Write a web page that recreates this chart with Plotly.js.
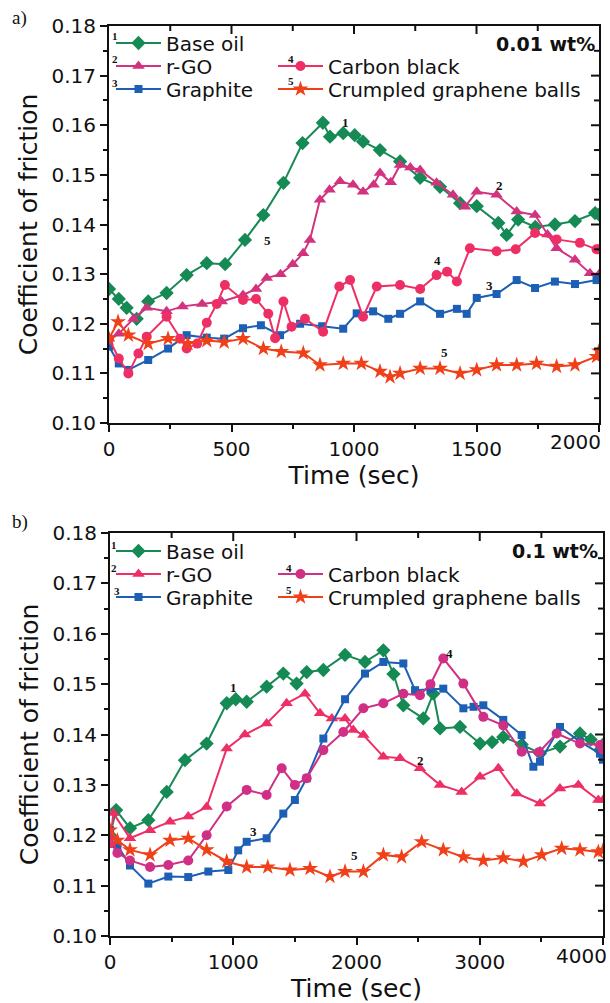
<!DOCTYPE html>
<html><head><meta charset="utf-8">
<script src="https://cdn.plot.ly/plotly-3.0.1.min.js"></script>
<style>html,body{margin:0;padding:0;background:#fff}#chart{width:610px;height:1003px}</style>
</head><body><div id="chart"></div>
<script>
// ---------- Data ----------
const seriesNames = ["Base oil", "r-GO", "Graphite", "Carbon black", "Crumpled graphene balls"];

// Panel a) 0.01 wt%
const aBaseT = [0, 40, 72, 113, 160, 235, 317, 399, 474, 555, 630, 712, 790, 873, 902, 956, 1003, 1037, 1106, 1188, 1270, 1351, 1433, 1501, 1589, 1623, 1670, 1740, 1820, 1902, 1984, 2000];
const aBaseV = [0.127, 0.125, 0.1232, 0.121, 0.1245, 0.1262, 0.1298, 0.1322, 0.132, 0.1369, 0.1419, 0.1484, 0.1564, 0.1605, 0.1577, 0.1584, 0.158, 0.1567, 0.155, 0.1527, 0.1494, 0.1476, 0.1443, 0.1437, 0.1403, 0.1379, 0.141, 0.1395, 0.140, 0.1407, 0.1423, 0.142];
const aRgoT = [0, 40, 100, 154, 235, 300, 380, 460, 547, 600, 644, 700, 750, 792, 820, 861, 900, 943, 996, 1037, 1080, 1106, 1150, 1188, 1230, 1270, 1337, 1404, 1453, 1501, 1582, 1664, 1739, 1790, 1827, 1902, 1963, 2000];
const aRgoV = [0.117, 0.118, 0.121, 0.1232, 0.1225, 0.1235, 0.124, 0.1245, 0.1258, 0.127, 0.1292, 0.130, 0.132, 0.1342, 0.1369, 0.145, 0.147, 0.1487, 0.148, 0.1466, 0.148, 0.1504, 0.1485, 0.152, 0.1515, 0.151, 0.1484, 0.146, 0.1436, 0.1466, 0.146, 0.1426, 0.1419, 0.138, 0.1352, 0.1329, 0.1302, 0.130];
const aGrT = [0, 40, 79, 160, 241, 317, 399, 470, 547, 620, 698, 780, 870, 956, 1011, 1078, 1140, 1188, 1270, 1351, 1420, 1460, 1501, 1582, 1664, 1739, 1820, 1902, 1990, 2000];
const aGrV = [0.1154, 0.112, 0.1107, 0.1127, 0.115, 0.1177, 0.1172, 0.117, 0.1191, 0.1197, 0.1177, 0.120, 0.1195, 0.119, 0.1221, 0.1225, 0.121, 0.122, 0.1245, 0.122, 0.123, 0.122, 0.1252, 0.126, 0.1288, 0.1272, 0.1285, 0.128, 0.1288, 0.129];
const aCbT = [0, 40, 79, 120, 154, 235, 290, 317, 360, 399, 440, 473, 547, 600, 650, 678, 712, 745, 800, 874, 940, 984, 1037, 1093, 1188, 1270, 1337, 1380, 1420, 1473, 1582, 1660, 1739, 1827, 1922, 1990, 2000];
const aCbV = [0.117, 0.113, 0.110, 0.114, 0.1174, 0.1214, 0.117, 0.115, 0.116, 0.1202, 0.124, 0.1278, 0.1248, 0.125, 0.122, 0.1171, 0.1245, 0.1194, 0.121, 0.1184, 0.1275, 0.1288, 0.1214, 0.1275, 0.1278, 0.127, 0.1298, 0.1305, 0.1285, 0.1352, 0.1346, 0.135, 0.1383, 0.137, 0.1363, 0.135, 0.135];
const aCgbT = [0, 37, 79, 160, 241, 322, 399, 470, 547, 630, 703, 793, 861, 956, 1030, 1106, 1147, 1188, 1270, 1351, 1433, 1501, 1582, 1664, 1745, 1827, 1902, 1990, 2000];
const aCgbV = [0.117, 0.1204, 0.1177, 0.116, 0.117, 0.116, 0.1166, 0.1163, 0.117, 0.115, 0.1144, 0.1141, 0.1117, 0.112, 0.112, 0.1104, 0.1093, 0.110, 0.111, 0.111, 0.110, 0.1107, 0.1117, 0.1117, 0.112, 0.1114, 0.1117, 0.1134, 0.1145];

// Panel b) 0.1 wt%
const bBaseT = [0, 50, 162, 311, 460, 608, 784, 947, 1020, 1109, 1271, 1406, 1514, 1596, 1731, 1907, 2069, 2218, 2300, 2380, 2542, 2623, 2678, 2840, 3002, 3100, 3191, 3340, 3489, 3651, 3813, 3900, 3976, 4000];
const bBaseV = [0.120, 0.125, 0.1214, 0.123, 0.1286, 0.1349, 0.1382, 0.1462, 0.147, 0.1465, 0.1495, 0.1521, 0.1501, 0.1524, 0.1528, 0.1558, 0.1544, 0.1567, 0.152, 0.1458, 0.1432, 0.1481, 0.1412, 0.1415, 0.1382, 0.1385, 0.1395, 0.138, 0.1363, 0.1376, 0.1402, 0.139, 0.1369, 0.138];
const bRgoT = [0, 27, 162, 325, 487, 635, 784, 947, 1095, 1271, 1433, 1582, 1704, 1800, 1907, 1974, 2056, 2218, 2353, 2515, 2677, 2853, 3002, 3151, 3300, 3489, 3651, 3800, 3962, 4000];
const bRgoV = [0.118, 0.1244, 0.1194, 0.121, 0.1227, 0.1237, 0.1256, 0.1372, 0.140, 0.1422, 0.1462, 0.1481, 0.1442, 0.1432, 0.1432, 0.1409, 0.1399, 0.1356, 0.1353, 0.1333, 0.130, 0.1286, 0.1316, 0.1333, 0.1283, 0.1263, 0.1293, 0.130, 0.127, 0.127];
const bGrT = [0, 60, 162, 311, 473, 635, 798, 960, 1040, 1109, 1271, 1406, 1500, 1596, 1731, 1907, 2069, 2218, 2380, 2475, 2600, 2704, 2867, 2950, 3029, 3191, 3340, 3435, 3489, 3651, 3813, 3976, 4000];
const bGrV = [0.121, 0.118, 0.114, 0.1104, 0.1118, 0.1117, 0.1128, 0.1131, 0.117, 0.1187, 0.1194, 0.1243, 0.127, 0.1313, 0.1392, 0.147, 0.1521, 0.1544, 0.1541, 0.1488, 0.149, 0.1491, 0.1452, 0.1455, 0.1458, 0.1429, 0.1399, 0.1336, 0.1346, 0.1415, 0.1386, 0.1362, 0.135];
const bCbT = [0, 60, 162, 325, 473, 635, 784, 947, 1109, 1271, 1393, 1500, 1596, 1731, 1893, 2056, 2218, 2380, 2515, 2600, 2704, 2867, 3029, 3191, 3340, 3480, 3624, 3813, 3976, 4000];
const bCbV = [0.120, 0.1165, 0.115, 0.1137, 0.1141, 0.115, 0.120, 0.1257, 0.129, 0.128, 0.1333, 0.130, 0.1313, 0.1369, 0.1405, 0.1452, 0.1462, 0.1481, 0.1478, 0.150, 0.1551, 0.1501, 0.1435, 0.1418, 0.1366, 0.1365, 0.1402, 0.1382, 0.1379, 0.137];
const bCgbT = [0, 60, 162, 325, 487, 635, 784, 947, 1109, 1280, 1460, 1623, 1785, 1907, 2056, 2218, 2366, 2529, 2704, 2867, 3029, 3190, 3354, 3503, 3665, 3813, 3962, 4000];
const bCgbV = [0.121, 0.119, 0.1171, 0.1161, 0.119, 0.1194, 0.1171, 0.1148, 0.1137, 0.1137, 0.1131, 0.1134, 0.1118, 0.1128, 0.1128, 0.1161, 0.1157, 0.1187, 0.1171, 0.1157, 0.115, 0.1155, 0.1148, 0.1161, 0.1174, 0.1171, 0.1167, 0.117];

const yTickVals = [0.10, 0.11, 0.12, 0.13, 0.14, 0.15, 0.16, 0.17, 0.18];
const yMinorVals = [0.105, 0.115, 0.125, 0.135, 0.145, 0.155, 0.165, 0.175];
const xTickValsA = [0, 500, 1000, 1500, 2000];
const xMinorValsA = [250, 750, 1250, 1750];
const xTickValsB = [0, 1000, 2000, 3000, 4000];
const xMinorValsB = [500, 1500, 2500, 3500];
const panelTitles = ["0.01 wt%", "0.1 wt%"];

// ---------- Styles ----------
const W = 610, H = 1003;
const FONT = "DejaVu Sans, Arial, sans-serif";
const SERIF = "Liberation Serif, DejaVu Serif, serif";
const TW = 2;
const styleA = [
  {color: "#168a55", symbol: "diamond", size: 11},
  {color: "#d2337f", symbol: "triangle-up", size: 11},
  {color: "#1c5fb5", symbol: "square", size: 8},
  {color: "#ee2f66", symbol: "circle", size: 10},
  {color: "#f0401a", symbol: "star", size: 12}
];
const styleB = [
  {color: "#168a55", symbol: "diamond", size: 11},
  {color: "#ee2f66", symbol: "triangle-up", size: 11},
  {color: "#1c5fb5", symbol: "square", size: 8},
  {color: "#cf2f85", symbol: "circle", size: 10},
  {color: "#f0401a", symbol: "star", size: 12}
];

const dataA = [[aBaseT, aBaseV], [aRgoT, aRgoV], [aGrT, aGrV], [aCbT, aCbV], [aCgbT, aCgbV]];
const dataB = [[bBaseT, bBaseV], [bRgoT, bRgoV], [bGrT, bGrV], [bCbT, bCbV], [bCgbT, bCgbV]];

// plot-area geometry in pixels
const geoA = {l: 109, r: 599, t: 26, b: 423, xr: [0, 2000]};
const geoB = {l: 110, r: 603, t: 533, b: 936, xr: [0, 4000]};
const yRange = [0.10, 0.18];

// legend entry positions (pixel): text-left x, row-center y
const legPosA = [[168, 43], [168, 66], [168, 89], [330, 66], [330, 89]];
const legPosB = [[168, 551], [168, 574], [168, 597], [330, 574], [330, 597]];

const traces = [];
const layoutLegends = {};

// inward tick marks on the top and right frame edges, built from the tick arrays on the axes' scales
function frameTickTrace(geo, xa, ya, xMaj, xMin, yMaj, yMin) {
  const dyPerPx = (yRange[1] - yRange[0]) / (geo.b - geo.t);
  const dxPerPx = (geo.xr[1] - geo.xr[0]) / (geo.r - geo.l);
  const top = yRange[1], right = geo.xr[1];
  const xs = [], ys = [];
  const addT = (vals, len) => vals.forEach(v => { xs.push(v, v, null); ys.push(top, top - len * dyPerPx, null); });
  const addR = (vals, len) => vals.forEach(v => { xs.push(right, right - len * dxPerPx, null); ys.push(v, v, null); });
  addT(xMaj.slice(1, -1), 8); addT(xMin, 5);
  addR(yMaj.slice(1, -1), 8); addR(yMin, 5);
  traces.push({x: xs, y: ys, type: "scatter", mode: "lines", xaxis: xa, yaxis: ya,
    line: {color: "#111", width: TW}, connectgaps: false, showlegend: false, hoverinfo: "skip", cliponaxis: false});
}

function addPanel(data, styles, legPos, xa, ya, legOffset) {
  data.forEach((d, i) => {
    const legId = "legend" + (legOffset + i === 1 ? "" : (legOffset + i));
    traces.push({
      x: d[0], y: d[1], type: "scatter", mode: "lines+markers",
      name: seriesNames[i], xaxis: xa, yaxis: ya, legend: legId,
      line: {color: styles[i].color, width: 2},
      marker: {color: styles[i].color, symbol: styles[i].symbol, size: styles[i].size, line: {width: 0}}
    });
    layoutLegends[legId] = {
      x: (legPos[i][0] - 57) / W, y: 1 - legPos[i][1] / H,
      xanchor: "left", yanchor: "middle", bgcolor: "rgba(0,0,0,0)", borderwidth: 0,
      itemwidth: 45, font: {family: FONT, size: 20, color: "#111"}
    };
  });
}
addPanel(dataA, styleA, legPosA, "x", "y", 1);
addPanel(dataB, styleB, legPosB, "x2", "y2", 6);
frameTickTrace(geoA, "x", "y", xTickValsA, xMinorValsA, yTickVals, yMinorVals);
frameTickTrace(geoB, "x2", "y2", xTickValsB, xMinorValsB, yTickVals, yMinorVals);

function mainX(geo, anchor, tv, minor) {
  return {domain: [geo.l / W, geo.r / W], anchor: anchor, range: geo.xr, tickmode: "array", tickvals: tv,
    ticktext: tv.map((v, i) => i === tv.length - 1 ? "" : String(v)),
    ticks: "outside", ticklen: 7, tickwidth: TW, tickcolor: "#111",
    minor: {dtick: minor, tick0: 0, ticks: "outside", ticklen: 4, tickwidth: TW, tickcolor: "#111"},
    showline: true, linecolor: "#111", linewidth: 2, mirror: true,
    showgrid: false, zeroline: false,
    tickfont: {family: FONT, size: 20, color: "#111"},
    title: {text: "Time (sec)", font: {family: FONT, size: 25, color: "#111"}, standoff: 0}};
}
function mainY(geo, anchor) {
  return {domain: [1 - geo.b / H, 1 - geo.t / H], anchor: anchor, range: yRange, tickvals: yTickVals, tickformat: ".2f",
    ticks: "outside", ticklen: 7, tickwidth: TW, tickcolor: "#111",
    minor: {dtick: 0.005, tick0: 0.1, ticks: "outside", ticklen: 4, tickwidth: TW, tickcolor: "#111"},
    showline: true, linecolor: "#111", linewidth: 2, mirror: true,
    showgrid: false, zeroline: false,
    tickfont: {family: FONT, size: 20, color: "#111"},
    title: {text: "Coefficient of friction", font: {family: FONT, size: 25, color: "#111"}, standoff: 7}};
}

const ann = [];
function txt(x, y, text, size, family, bold, xanchor) {
  ann.push({xref: "paper", yref: "paper", x: x / W, y: 1 - y / H, text: bold ? "<b>" + text + "</b>" : text,
    showarrow: false, xanchor: xanchor || "center", yanchor: "middle",
    font: {family: family, size: size, color: "#111"}});
}
txt(10, 18, "a)", 19, SERIF, false, "left");
txt(10, 522, "b)", 19, SERIF, false, "left");
txt(597, 44, panelTitles[0], 19, FONT, true, "right");
txt(600, 551, panelTitles[1], 19, FONT, true, "right");
// last x tick labels, pulled left so they stay inside the picture (as in the original)
txt(603, 442, String(xTickValsA[xTickValsA.length - 1]), 20, FONT, false, "right");
txt(609, 956, String(xTickValsB[xTickValsB.length - 1]), 20, FONT, false, "right");
// legend index numbers
[[115, 36, "1"], [115, 59, "2"], [115, 83, "3"], [291, 59, "4"], [291, 81, "5"],
 [114, 545, "1"], [114, 568, "2"], [117, 591, "3"], [289, 568, "4"], [289, 590, "5"]].forEach(p => txt(p[0], p[1], p[2], 11, SERIF, true));
// curve labels (data coords)
function lab(xr, yr, x, y, t) {
  ann.push({xref: xr, yref: yr, x: x, y: y, text: "<b>" + t + "</b>", showarrow: false,
    font: {family: SERIF, size: 13, color: "#111"}});
}
lab("x", "y", 967, 0.1605, "1"); lab("x", "y", 1592, 0.1478, "2"); lab("x", "y", 645, 0.1367, "5");
lab("x", "y", 1339, 0.1327, "4"); lab("x", "y", 1555, 0.1278, "3"); lab("x", "y", 1371, 0.1143, "5");
lab("x2", "y2", 1006, 0.1494, "1"); lab("x2", "y2", 2758, 0.1561, "4"); lab("x2", "y2", 2523, 0.1349, "2");
lab("x2", "y2", 1168, 0.1208, "3"); lab("x2", "y2", 1980, 0.1159, "5");

const layout = Object.assign({
  width: W, height: H, margin: {l: 0, r: 0, t: 0, b: 0},
  paper_bgcolor: "#fff", plot_bgcolor: "#fff", showlegend: true,
  font: {family: FONT, color: "#111"},
  xaxis: mainX(geoA, "y", xTickValsA, 250),
  yaxis: mainY(geoA, "x"),
  xaxis2: mainX(geoB, "y2", xTickValsB, 500),
  yaxis2: mainY(geoB, "x2"),
  annotations: ann
}, layoutLegends);

Plotly.newPlot("chart", traces, layout, {displayModeBar: false, staticPlot: true});
</script></body></html>
